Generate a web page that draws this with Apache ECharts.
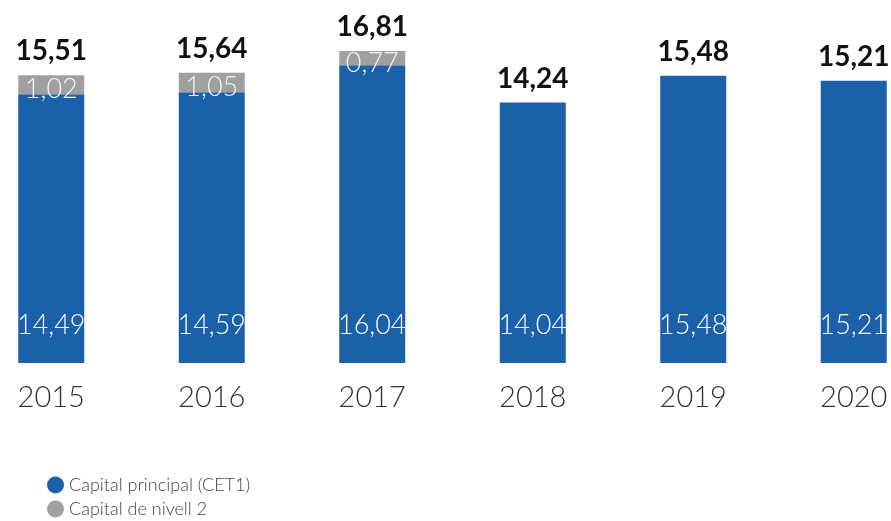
<!DOCTYPE html>
<html>
<head>
<meta charset="utf-8">
<script src="https://cdn.jsdelivr.net/npm/echarts@6/dist/echarts.min.js"></script>
<style>
  html, body { margin: 0; padding: 0; background: #fff; }
  #chart { width: 891px; height: 521px; }
</style>
</head>
<body>
<div id="chart"></div>
<script>
const years = ["2015", "2016", "2017", "2018", "2019", "2020"];
const cet1 = [14.49, 14.59, 16.04, 14.04, 15.48, 15.21];
// 2018 has no visible tier 2 segment in the picture
const tier2 = [1.02, 1.05, 0.77, 0, 0, 0];
const totals = [15.51, 15.64, 16.81, 14.24, 15.48, 15.21];

const fmt = (v) => v.toFixed(2).replace(".", ",");

const myChart = echarts.init(document.getElementById("chart"));

const legendText = { fontSize: 18, color: "#444", fontWeight: 300, fontFamily: "Lato" };

const options = {
  animation: false,
  textStyle: { fontFamily: "Lato" },
  legend: [
    {
      left: 42,
      top: 471,
      itemWidth: 17,
      itemHeight: 17,
      icon: "circle",
      textStyle: legendText,
      data: ["Capital principal (CET1)"],
    },
    {
      left: 42,
      top: 495,
      itemWidth: 17,
      itemHeight: 17,
      icon: "circle",
      textStyle: legendText,
      data: ["Capital de nivell 2"],
    },
  ],
  grid: {
    top: 29,
    bottom: 158,
    left: -29,
    width: 963,
    containLabel: false,
    outerBoundsMode: "none",
  },
  xAxis: {
    type: "category",
    data: years,
    axisLine: { show: false },
    axisTick: { show: false },
    axisLabel: {
      margin: 20,
      fontSize: 29,
      fontWeight: 300,
      color: "#333",
      fontFamily: "Lato",
    },
  },
  yAxis: {
    type: "value",
    min: 0,
    max: 18,
    show: false,
    splitLine: { show: false },
  },
  series: [
    {
      name: "Capital principal (CET1)",
      type: "bar",
      stack: "total",
      barWidth: 66,
      itemStyle: { color: "#1b61aa" },
      label: {
        show: true,
        position: "insideBottom",
        distance: 24,
        color: "#fff",
        fontSize: 27,
        fontWeight: 300,
        fontFamily: "Lato",
        formatter: (p) => fmt(p.value),
      },
      data: cet1,
    },
    {
      name: "Capital de nivell 2",
      type: "bar",
      stack: "total",
      itemStyle: { color: "#a0a0a0" },
      label: {
        show: true,
        position: "inside",
        offset: [0, 5],
        color: "#f2f2f2",
        fontSize: 27,
        fontWeight: 300,
        fontFamily: "Lato",
        formatter: (p) => (p.value > 0 ? fmt(p.value) : ""),
      },
      data: tier2,
    },
    {
      name: "total",
      type: "bar",
      stack: "total",
      itemStyle: { color: "transparent" },
      label: {
        show: true,
        position: "top",
        distance: 10,
        color: "#111",
        fontSize: 28,
        fontWeight: "bold",
        fontFamily: "Lato",
        formatter: (p) => fmt(totals[p.dataIndex]),
      },
      data: years.map(() => 0),
    },
  ],
};

myChart.setOption(options);
</script>
</body>
</html>
